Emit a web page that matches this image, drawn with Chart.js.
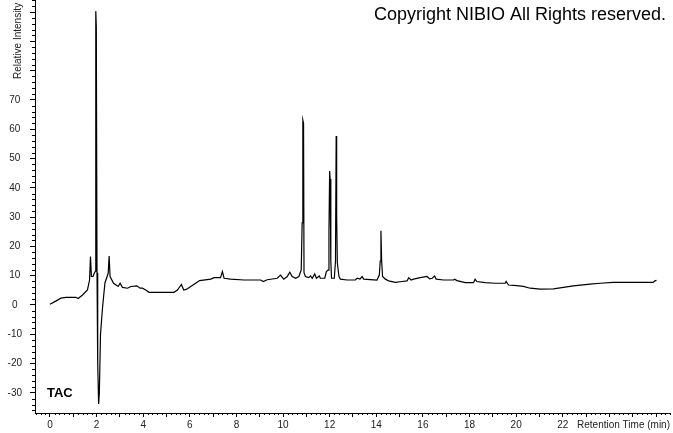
<!DOCTYPE html>
<html>
<head>
<meta charset="utf-8">
<script src="https://cdn.jsdelivr.net/npm/chart.js@4/dist/chart.umd.min.js"></script>
<style>
  html, body { margin: 0; padding: 0; background: #fff; }
  #wrap { position: relative; width: 673px; height: 433px; }
</style>
</head>
<body>
<div id="wrap"><canvas id="chrom" width="673" height="433"></canvas></div>
<script>
const retentionTime = [
  0.00, 0.25, 0.47, 0.69, 1.11, 1.21, 1.40, 1.61, 1.70, 1.74, 1.78, 1.85, 1.90, 1.95,
  1.96, 1.975, 1.99, 2.02, 2.05, 2.09, 2.12, 2.17, 2.26, 2.36, 2.50, 2.54, 2.58, 2.73,
  2.93, 3.01, 3.11, 3.33, 3.47, 3.73, 3.87, 3.97, 4.11, 4.25, 5.32, 5.47, 5.64, 5.74,
  5.85, 6.04, 6.25, 6.42, 6.90, 7.04, 7.32, 7.40, 7.47, 7.75, 8.32, 9.04, 9.15, 9.32,
  9.75, 9.89, 10.03, 10.18, 10.29, 10.39, 10.54, 10.68, 10.78, 10.82, 10.85, 10.88, 10.90, 10.96,
  11.10, 11.18, 11.25, 11.36, 11.43, 11.56, 11.60, 11.79, 11.86, 11.93, 11.97, 12.00, 12.02, 12.05,
  12.08, 12.20, 12.25, 12.28, 12.30, 12.33, 12.40, 12.46, 12.75, 13.10, 13.18, 13.30, 13.39, 13.46,
  14.03, 14.13, 14.17, 14.20, 14.23, 14.27, 14.39, 14.53, 14.82, 15.10, 15.32, 15.39, 15.49, 15.60,
  15.89, 16.18, 16.29, 16.40, 16.50, 16.57, 16.89, 17.32, 17.36, 17.46, 17.82, 18.17, 18.24, 18.31,
  18.67, 19.10, 19.53, 19.57, 19.67, 20.03, 20.31, 20.60, 21.03, 21.60, 22.03, 22.45, 23.17, 23.60,
  24.17, 25.88, 25.95, 26.02
];
const intensity = [
  0.2, 1.3, 2.3, 2.6, 2.6, 2.2, 3.4, 5.1, 8.5, 16.5, 9.7, 9.7, 10.8, 11.5,
  95.0, 100.3, 95.0, 11.0, -20.0, -33.8, -30.0, -10.0, -0.6, 7.5, 10.8, 16.7, 9.7, 7.4,
  6.3, 7.4, 6.0, 5.7, 6.3, 6.5, 5.7, 5.7, 5.1, 4.3, 4.3, 5.1, 7.0, 5.1,
  5.3, 6.3, 7.4, 8.3, 8.8, 9.3, 9.3, 11.4, 9.1, 8.8, 8.5, 8.5, 8.0, 8.6,
  9.1, 10.2, 8.8, 9.7, 11.2, 9.7, 9.1, 9.7, 11.9, 28.0, 63.1, 62.0, 11.0, 9.7,
  9.3, 9.9, 9.1, 10.6, 9.1, 9.9, 9.1, 9.1, 11.4, 11.9, 25.0, 45.7, 43.0, 15.0,
  9.1, 9.1, 15.0, 57.7, 30.7, 14.3, 9.7, 8.8, 8.5, 8.5, 9.1, 8.8, 9.7, 8.8,
  8.5, 10.2, 15.0, 25.3, 15.0, 9.7, 8.8, 8.2, 7.7, 8.0, 8.2, 9.3, 8.5, 8.8,
  9.3, 9.7, 8.9, 9.1, 9.9, 8.8, 8.5, 8.5, 8.8, 8.3, 7.6, 7.6, 8.8, 8.0,
  7.6, 7.4, 7.4, 8.0, 6.8, 6.6, 6.3, 5.7, 5.4, 5.5, 6.0, 6.5, 7.1, 7.4,
  7.7, 7.7, 8.2, 8.4
];

// Marcas dos eixos
const xMajorTicks = [0,1,2,3,4,5,6,7,8,9,10,11,12,13,14,15,16,17,18,19,20,21,22,23,24,25,26];
const xTickLabels = [0,2,4,6,8,10,12,14,16,18,20,22];
const yMajorTicks = [-30,-20,-10,0,10,20,30,40,50,60,70,80,90,100];
const yTickLabels = [-30,-20,-10,0,10,20,30,40,50,60,70];

const FONT = "'Liberation Sans', Arial, sans-serif";

// Plugin: marcas menores + textos (título do eixo Y, copyright, TAC, título do eixo X)
const decorations = {
  id: 'decorations',
  afterDraw(chart) {
    const { ctx, scales: { x, y }, chartArea } = chart;
    ctx.save();
    ctx.strokeStyle = '#000';
    ctx.lineWidth = 1;
    ctx.beginPath();
    // marcas menores X a cada 0.2 min
    for (let i = -3; i <= 133; i++) {
      const v = i * 0.2;
      if (v < x.min || v > x.max) continue;
      if (Math.abs(v - Math.round(v)) < 1e-6) continue;
      const px = Math.round(x.getPixelForValue(v)) + 0.5;
      ctx.moveTo(px, chartArea.bottom);
      ctx.lineTo(px, chartArea.bottom + 2);
    }
    // marcas menores Y a cada 2
    for (let v = -36; v <= 104; v += 2) {
      if (v % 10 === 0) continue;
      const py = Math.round(y.getPixelForValue(v)) + 0.5;
      ctx.moveTo(chartArea.left, py);
      ctx.lineTo(chartArea.left - 3, py);
    }
    ctx.stroke();

    ctx.fillStyle = '#222';
    // título do eixo Y (cortado no topo, como no original)
    ctx.save();
    ctx.translate(18, 79);
    ctx.rotate(-Math.PI / 2);
    ctx.font = '10px ' + FONT;
    ctx.textAlign = 'left';
    ctx.textBaseline = 'middle';
    ctx.fillText('Relative Intensity', 0, 0);
    ctx.restore();

    // título do eixo X
    ctx.font = '10px ' + FONT;
    ctx.textAlign = 'right';
    ctx.textBaseline = 'middle';
    ctx.fillText('Retention Time (min)', 670, 425);

    // copyright
    ctx.fillStyle = '#000';
    ctx.font = '18px ' + FONT;
    ctx.textAlign = 'right';
    ctx.fillText('Copyright NIBIO All Rights reserved.', 666, 15);

    // TAC
    ctx.font = 'bold 13px ' + FONT;
    ctx.textAlign = 'left';
    ctx.fillText('TAC', 47, 393);
    ctx.restore();
  }
};

new Chart(document.getElementById('chrom'), {
  type: 'scatter',
  data: {
    datasets: [{
      data: retentionTime.map((t, i) => ({ x: t, y: intensity[i] })),
      showLine: true,
      borderColor: '#000',
      borderWidth: 1.2,
      pointRadius: 0,
      tension: 0
    }]
  },
  options: {
    responsive: false,
    animation: false,
    layout: { padding: { top: 0, right: 3, bottom: 0, left: 0 } },
    plugins: { legend: { display: false }, tooltip: { enabled: false } },
    scales: {
      x: {
        type: 'linear',
        min: -0.64,
        max: 26.6,
        border: { display: true, color: '#000', width: 1 },
        grid: { drawOnChartArea: false, drawTicks: true, tickLength: 4, color: '#000' },
        ticks: {
          autoSkip: false,
          maxRotation: 0,
          padding: 2,
          color: '#222',
          font: { size: 10, family: FONT },
          callback: v => xTickLabels.includes(v) ? String(v) : ''
        },
        afterBuildTicks: s => { s.ticks = xMajorTicks.map(v => ({ value: v })); },
        afterFit: s => { s.height = 20; s.paddingLeft = 0; s.paddingRight = 0; }
      },
      y: {
        type: 'linear',
        min: -36.9,
        max: 104.1,
        border: { display: true, color: '#000', width: 1 },
        grid: { drawOnChartArea: false, drawTicks: true, tickLength: 5, color: '#000' },
        ticks: {
          autoSkip: false,
          crossAlign: 'center',
          padding: 8,
          color: '#222',
          font: { size: 10, family: FONT },
          callback: v => yTickLabels.includes(v) ? String(v) : ''
        },
        afterBuildTicks: s => { s.ticks = yMajorTicks.map(v => ({ value: v })); },
        afterFit: s => { s.width = 35; s.paddingTop = 0; s.paddingBottom = 0; }
      }
    }
  },
  plugins: [decorations]
});
</script>
</body>
</html>
